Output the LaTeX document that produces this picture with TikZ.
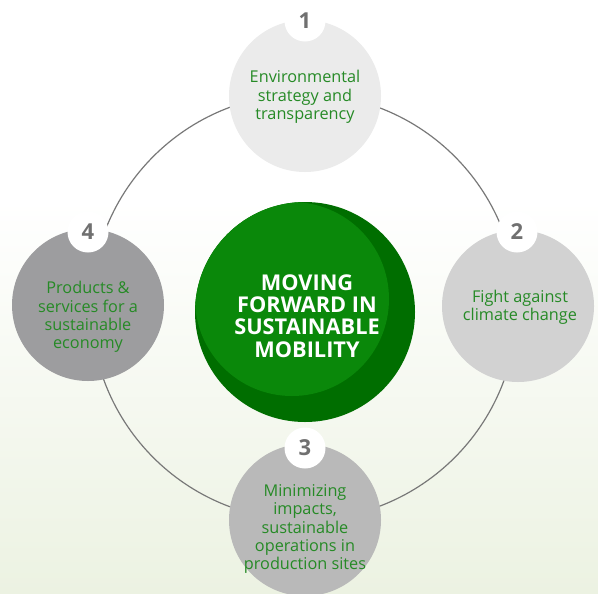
\documentclass[tikz,border=0pt]{standalone}
\usepackage{fontspec}
\setmainfont{Open Sans}
\usepackage{tikz}

\begin{document}
\begin{tikzpicture}[x=0.75pt,y=0.75pt,yscale=-1,xscale=1,
    topic/.style={circle,inner sep=0pt,minimum size=152*0.75pt,align=center,
        text={rgb, 255:red, 38; green, 138; blue, 38},font=\fontsize{12.2}{13.7}\selectfont},
    badge/.style={circle,fill=white,inner sep=0pt,minimum size=41*0.75pt,
        text={rgb, 255:red, 112; green, 112; blue, 112},font=\fontsize{16.5}{18}\selectfont\bfseries},
    ringline/.style={color={rgb, 255:red, 120; green, 120; blue, 120},line width=0.9}]
    \useasboundingbox (0,0) rectangle (598,593);

    %Shape: Background
    \fill [white] (0,0) rectangle (598,200);
    \fill [top color=white, middle color={rgb, 255:red, 241; green, 245; blue, 243}, bottom color={rgb, 255:red, 236; green, 242; blue, 226}] (0,200) rectangle (598,593);

    %Shape: Ring
    \coordinate (hub) at (304,307);
    \draw [ringline] (hub) circle (213);

    %Shape: Circles
    \node [topic,fill={rgb, 255:red, 235; green, 235; blue, 235}] (env) at (305,96) {};
    \node [topic,fill={rgb, 255:red, 210; green, 210; blue, 210}] (climate) at (518,306) {};
    \node [topic,fill={rgb, 255:red, 185; green, 185; blue, 185}] (sites) at (305,520) {};
    \node [topic,fill={rgb, 255:red, 157; green, 157; blue, 159}] (products) at (88,305) {};

    %Shape: Badges
    \node [badge] (n1) at (305,21) {1};
    \node [badge] (n2) at (517,232) {2};
    \node [badge] (n3) at (305,448) {3};
    \node [badge] (n4) at (88,232) {4};

    %Shape: Center circle
    \fill [color={rgb, 255:red, 0; green, 110; blue, 0}] (305,312) circle (110);
    \begin{scope}
        \clip (305,312) circle (110);
        \fill [color={rgb, 255:red, 10; green, 136; blue, 10}] (292,299) circle (97);
    \end{scope}

    % Text Node
    \node [align=center,text=white,font=\fontsize{16.3}{16.8}\selectfont\bfseries] (mobility) at (307,316) {MOVING\\FORWARD IN\\SUSTAINABLE\\MOBILITY};
    % Text Node
    \node [topic] (envtext) at (305,97) {Environmental\\strategy and\\transparency};
    % Text Node
    \node [topic] (climatetext) at (520,307) {Fight against\\climate change};
    % Text Node
    \node [topic] (sitestext) at (305,529) {Minimizing\\impacts,\\sustainable\\operations in\\production sites};
    % Text Node
    \node [topic] (productstext) at (88,317) {Products \&\\services for a\\sustainable\\economy};

\end{tikzpicture}
\end{document}
